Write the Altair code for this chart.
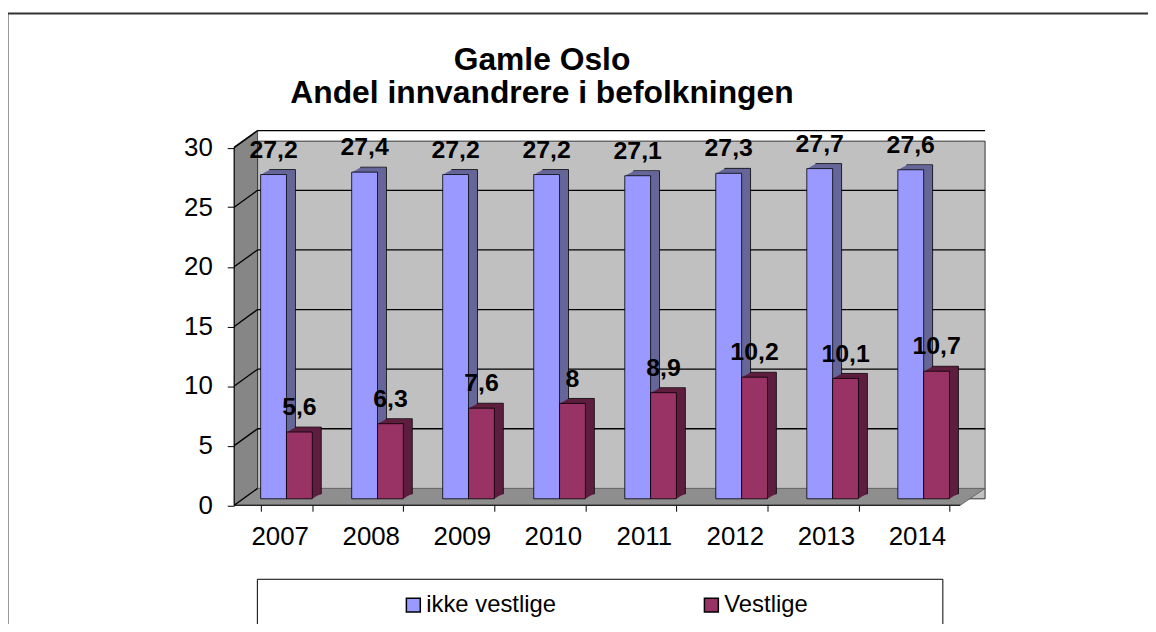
import altair as alt
import pandas as pd

# ---------------- data ----------------
years = ["2007", "2008", "2009", "2010", "2011", "2012", "2013", "2014"]
ikke_vestlige = [27.2, 27.4, 27.2, 27.2, 27.1, 27.3, 27.7, 27.6]
vestlige = [5.6, 6.3, 7.6, 8, 8.9, 10.2, 10.1, 10.7]
series_names = ["ikke vestlige", "Vestlige"]
front_colors = ["#9999FF", "#993366"]
side_colors = ["#666699", "#5E1E3F"]
y_ticks = [0, 5, 10, 15, 20, 25, 30]
title_lines = ["Gamle Oslo", "Andel innvandrere i befolkningen"]

rows = []
for i, yr in enumerate(years):
    rows.append(dict(year=yr, series=series_names[0], value=ikke_vestlige[i], side=side_colors[0]))
    rows.append(dict(year=yr, series=series_names[1], value=vestlige[i], side=side_colors[1]))
bars = pd.DataFrame(rows)
ticks_df = pd.DataFrame({"v": y_ticks})
one = pd.DataFrame({"a": [0]})
titles_df = pd.DataFrame({"t": title_lines, "i": [0, 1]})

FONT = "Liberation Sans"
W, H = 733, 360
PAD_L, PAD_T = 234.5, 132
FDX, FDY = -6.8, 6.5     # front plane offset from bar plane
BDX, BDY = 16.7, -10.5   # back plane offset from bar plane
XR_F, XR_B = 724, 749    # right ends of floor (front/back)
BW = 26                  # bar width
DEPTH_STEPS = 9          # bar depth: 9 px right, 5 px up

y_scale = alt.Scale(domain=[0, 30], nice=False)
y_axis = alt.Axis(values=y_ticks, domain=False, grid=False, tickSize=7, tickColor="black",
                  tickWidth=1, labelFontSize=26, labelFont=FONT, labelColor="black",
                  labelPadding=15, offset=-FDX, tickOffset=FDY, title=None, zindex=2)
x_axis = alt.Axis(title=None, domain=False, tickBand="extent", tickSize=6, tickColor="black",
                  tickOffset=FDX, labelOffset=FDX, offset=FDY, labelAngle=0, labelFontSize=26,
                  labelFont=FONT, labelColor="black", labelPadding=13, zindex=2)
x_enc = alt.X("year:N", sort=years, scale=alt.Scale(paddingInner=0.432, paddingOuter=0.216), axis=x_axis)
y_plain = alt.Y("value:Q", scale=y_scale, axis=None)
y_with_axis = alt.Y("value:Q", scale=y_scale, axis=y_axis)

# ---------------- decoration ----------------
frame = alt.Chart(one).mark_rect(fill=None, stroke="#333333", strokeWidth=2).encode(
    x=alt.value(-235), x2=alt.value(1000), y=alt.value(-128.5), y2=alt.value(700))

legend_box = alt.Chart(one).mark_rect(fill=None, stroke="black", strokeWidth=1).encode(
    x=alt.value(16.5), x2=alt.value(706.5), y=alt.value(441), y2=alt.value(488))

back_wall = alt.Chart(one).mark_rect(fill="#C0C0C0", stroke="#333333", strokeWidth=1).encode(
    x=alt.value(BDX), x2=alt.value(XR_B),
    y=alt.Y(datum=30, scale=y_scale, axis=None), y2=alt.Y2(datum=0))

side_df = pd.DataFrame({"px": [FDX, BDX], "py": [5.6, -11], "py2": [366.5, 349.5]})
side_wall = alt.Chart(side_df).mark_area(fill="#868686", stroke="#333333", strokeWidth=0.8).encode(
    x=alt.X("px:Q", scale=None), y=alt.Y("py:Q", scale=None), y2="py2:Q")

floor_df = pd.DataFrame({"px": [FDX, BDX, XR_F, XR_B],
                         "py": [366.5, 349.5, 349.5, 349.5],
                         "py2": [366.5, 366.5, 366.5, 349.5]})
floor = alt.Chart(floor_df).mark_area(fill="#8E8E8E", stroke="#555555", strokeWidth=0.8).encode(
    x=alt.X("px:Q", scale=None), y=alt.Y("py:Q", scale=None), y2="py2:Q")

side_grid = alt.Chart(ticks_df).mark_rule(color="black", strokeWidth=1.3, yOffset=FDY, y2Offset=BDY).encode(
    x=alt.value(FDX), x2=alt.value(BDX),
    y=alt.Y("v:Q", scale=y_scale, axis=None), y2="v:Q")

back_grid = alt.Chart(ticks_df).transform_filter("datum.v > 0").mark_rule(
    color="black", strokeWidth=1.3, yOffset=BDY).encode(
    x=alt.value(BDX), x2=alt.value(XR_B),
    y=alt.Y("v:Q", scale=y_scale, axis=None))

front_y_line = alt.Chart(one).mark_rule(color="black", strokeWidth=1, yOffset=FDY, y2Offset=FDY).encode(
    x=alt.value(FDX), y=alt.Y(datum=30, scale=y_scale, axis=None), y2=alt.Y2(datum=0))

front_x_line = alt.Chart(one).mark_rule(color="black", strokeWidth=1, yOffset=FDY).encode(
    x=alt.value(FDX), x2=alt.value(XR_F), y=alt.Y(datum=0, scale=y_scale, axis=None))

# ---------------- bars ----------------
color_enc = alt.Color("series:N", sort=series_names,
                      scale=alt.Scale(domain=series_names, range=front_colors),
                      legend=alt.Legend(orient="none", legendX=161.5, legendY=455,
                                        direction="horizontal", title=None,
                                        symbolType="square", symbolSize=196,
                                        symbolStrokeColor="black", symbolStrokeWidth=1.5,
                                        labelFontSize=24, labelFont=FONT, labelColor="black",
                                        labelOffset=1, columnPadding=144, padding=0))

depth_layers, front_layers, label_layers = [], [], []
for k, name in enumerate(series_names):
    shift = -BW / 2 if k == 0 else BW / 2
    base = alt.Chart(bars).transform_filter(alt.datum.series == name)
    for s in range(DEPTH_STEPS, 0, -1):
        dy = -5 * s / DEPTH_STEPS
        depth_layers.append(base.mark_bar(
            stroke="black" if s == DEPTH_STEPS else None, strokeWidth=0.8, width=BW,
            xOffset=shift + s, yOffset=dy, y2Offset=dy).encode(
            x=x_enc, y=y_plain, color=alt.Color("side:N", scale=None)))
    front_layers.append(base.mark_bar(
        stroke="black", strokeWidth=0.8, width=BW, xOffset=shift).encode(
        x=x_enc, y=y_with_axis if k == 0 else y_plain, color=color_enc))
    label_layers.append(base.transform_calculate(
        lab="replace(toString(datum.value), '.', ',')").mark_text(
        fontSize=25, fontWeight="bold", font=FONT, baseline="alphabetic",
        dx=shift, dy=-17, color="black").encode(x=x_enc, y=y_plain, text="lab:N"))

title = alt.Chart(titles_df).mark_text(fontSize=32, fontWeight="bold", font=FONT,
                                       baseline="alphabetic", align="center", color="black").encode(
    x=alt.value(303),
    y=alt.Y("i:Q", scale=alt.Scale(domain=[0, 1], range=[-71.5, -38]), axis=None),
    text="t:N")

chart = alt.layer(
    frame, legend_box, back_wall, side_wall, floor, side_grid, back_grid,
    front_y_line, front_x_line, *depth_layers, *front_layers, *label_layers, title
).resolve_scale(y="independent").properties(
    width=W, height=H,
    autosize=alt.AutoSizeParams(type="none"),
    padding={"left": PAD_L, "top": PAD_T, "right": 180, "bottom": 124},
).configure_view(stroke=None).configure(background="white")

chart.save("out.html", embed_options={"renderer": "svg", "actions": False})
